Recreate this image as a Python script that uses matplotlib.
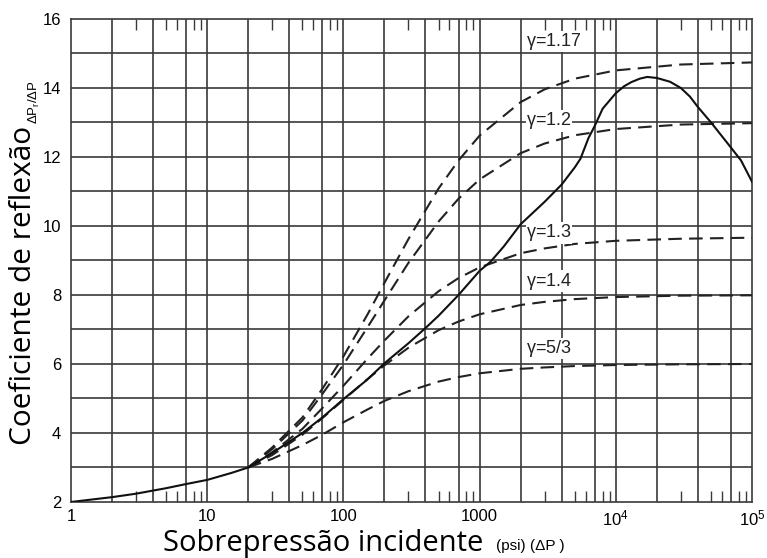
import numpy as np
import matplotlib
matplotlib.use("Agg")
import matplotlib.pyplot as plt

plt.rcParams['mathtext.default'] = 'regular'

# sobrepressao incidente (psi)
x_gas = [20, 30, 50, 70, 100, 150, 200, 300, 500, 700, 1000, 2000, 3000, 5000, 1e4, 3e4, 1e5]
# coeficiente de reflexao, gas ideal
y_117 = [3.0, 3.58, 4.45, 5.28, 6.22, 7.43, 8.35, 9.62, 11.09, 11.90, 12.62, 13.59, 13.96, 14.27, 14.51, 14.68, 14.74]
y_12 = [3.0, 3.53, 4.36, 5.13, 5.98, 7.06, 7.84, 8.93, 10.13, 10.79, 11.35, 12.11, 12.39, 12.63, 12.81, 12.94, 12.98]
y_13 = [3.0, 3.44, 4.12, 4.72, 5.37, 6.15, 6.68, 7.38, 8.11, 8.49, 8.80, 9.21, 9.35, 9.48, 9.57, 9.63, 9.66]
y_14 = [3.0, 3.36, 3.95, 4.43, 4.96, 5.56, 5.96, 6.47, 6.98, 7.23, 7.44, 7.71, 7.80, 7.88, 7.94, 7.98, 7.99]
y_53 = [3.0, 3.25, 3.65, 3.95, 4.31, 4.68, 4.93, 5.21, 5.49, 5.62, 5.73, 5.86, 5.90, 5.94, 5.97, 5.99, 6.00]

# ar real
x_ar = [1, 2, 3, 5, 7, 10, 15, 20, 30, 50, 70, 100, 150, 200, 300, 400, 500, 700, 1000, 1200, 1500,
        2000, 3000, 4000, 5000, 5500, 6300, 7000, 8000, 1e4, 1.15e4, 1.3e4, 1.5e4, 1.7e4, 2e4, 2.5e4,
        3e4, 3.5e4, 4e4, 5e4, 6.6e4, 8.3e4, 1e5]
y_ar = [2.0, 2.14, 2.24, 2.40, 2.52, 2.64, 2.84, 3.0, 3.42, 4.0, 4.45, 4.98, 5.55, 6.02, 6.6, 7.04, 7.4, 8.0, 8.7, 8.96, 9.4,
        10.05, 10.7, 11.2, 11.7, 11.95, 12.55, 12.9, 13.4, 13.85, 14.05, 14.17, 14.27, 14.32, 14.29, 14.18,
        14.0, 13.75, 13.45, 13.0, 12.4, 11.9, 11.28]

gamma_labels = ['=1.17', '=1.2', '=1.3', '=1.4', '=5/3']
label_y = [15.35, 13.05, 9.8, 8.4, 6.45]

xtick_vals = [1, 10, 100, 1000, 1e4, 1e5]
xtick_labels = ['1', '10', '100', '1000', '$10^4$', '$10^5$']
ytick_vals = [2, 4, 6, 8, 10, 12, 14, 16]

fig = plt.figure(figsize=(7.67, 5.58), dpi=100)
ax = fig.add_axes([0.0926, 0.1004, 0.8879, 0.8656])

grid_c = '#3a3a3a'
ax.set_xscale('log')
ax.set_xlim(1, 1e5)
ax.set_ylim(2, 16)

# grade
for d in [1, 10, 100, 1000, 1e4]:
    for m in [1, 2, 4, 7]:
        if d * m > 1:
            ax.axvline(d * m, color=grid_c, lw=1.2, zorder=1)
for v in range(3, 16):
    ax.axhline(v, color=grid_c, lw=1.2, zorder=1)

dash = (0, (6.5, 3.5))
for ys in [y_117, y_12, y_13, y_14, y_53]:
    ax.plot(x_gas, ys, color='#222222', lw=1.5, linestyle=dash, zorder=3)
ax.plot(x_ar, y_ar, color='#111111', lw=1.5, zorder=4)

for lab, yy in zip(gamma_labels, label_y):
    ax.text(2200, yy, '$\\gamma$' + lab, ha='left', va='center', fontsize=13,
            family='Liberation Sans', math_fontfamily='stix', color='#222222', zorder=5,
            bbox=dict(facecolor='white', edgecolor='none', pad=0.3))

ax.set_xticks(xtick_vals)
ax.set_xticklabels(xtick_labels)
ax.set_yticks(ytick_vals)
ax.set_yticklabels([str(v) for v in ytick_vals])
minor = [d * m for d in [1, 10, 100, 1000, 1e4] for m in [3, 5, 6, 8, 9]]
ax.set_xticks(minor, minor=True)
ax.xaxis.set_minor_formatter(matplotlib.ticker.NullFormatter())
ax.tick_params(axis='x', which='minor', direction='in', length=8, width=1.0,
               color=grid_c, top=True, bottom=True)
ax.tick_params(axis='both', which='major', length=0, labelsize=12)
ax.tick_params(axis='x', which='major', pad=5)
ax.tick_params(axis='y', which='major', pad=7)
ax.yaxis.set_minor_locator(matplotlib.ticker.NullLocator())
for lab in ax.get_xticklabels() + ax.get_yticklabels():
    lab.set_family('Liberation Sans')
for s in ax.spines.values():
    s.set_color(grid_c)
    s.set_linewidth(1.2)

fig.text(163 / 767, 1 - 551 / 558, 'Sobrepressão incidente', fontsize=21,
         family='Open Sans', ha='left', va='baseline')
fig.text(496 / 767, 1 - 550 / 558, '(psi) (ΔP )', fontsize=11,
         family='Liberation Sans', ha='left', va='baseline')
fig.text(9 / 767, 1 - 445 / 558, 'Coeficiente de reflexão', fontsize=21.5,
         family='Open Sans', rotation=90, ha='left', va='bottom')
fig.text(27 / 767, 1 - 124 / 558, 'ΔP$_r$/ΔP', fontsize=9.5,
         family='Liberation Sans', rotation=90, ha='left', va='bottom')

fig.savefig('out.png', dpi=100)
